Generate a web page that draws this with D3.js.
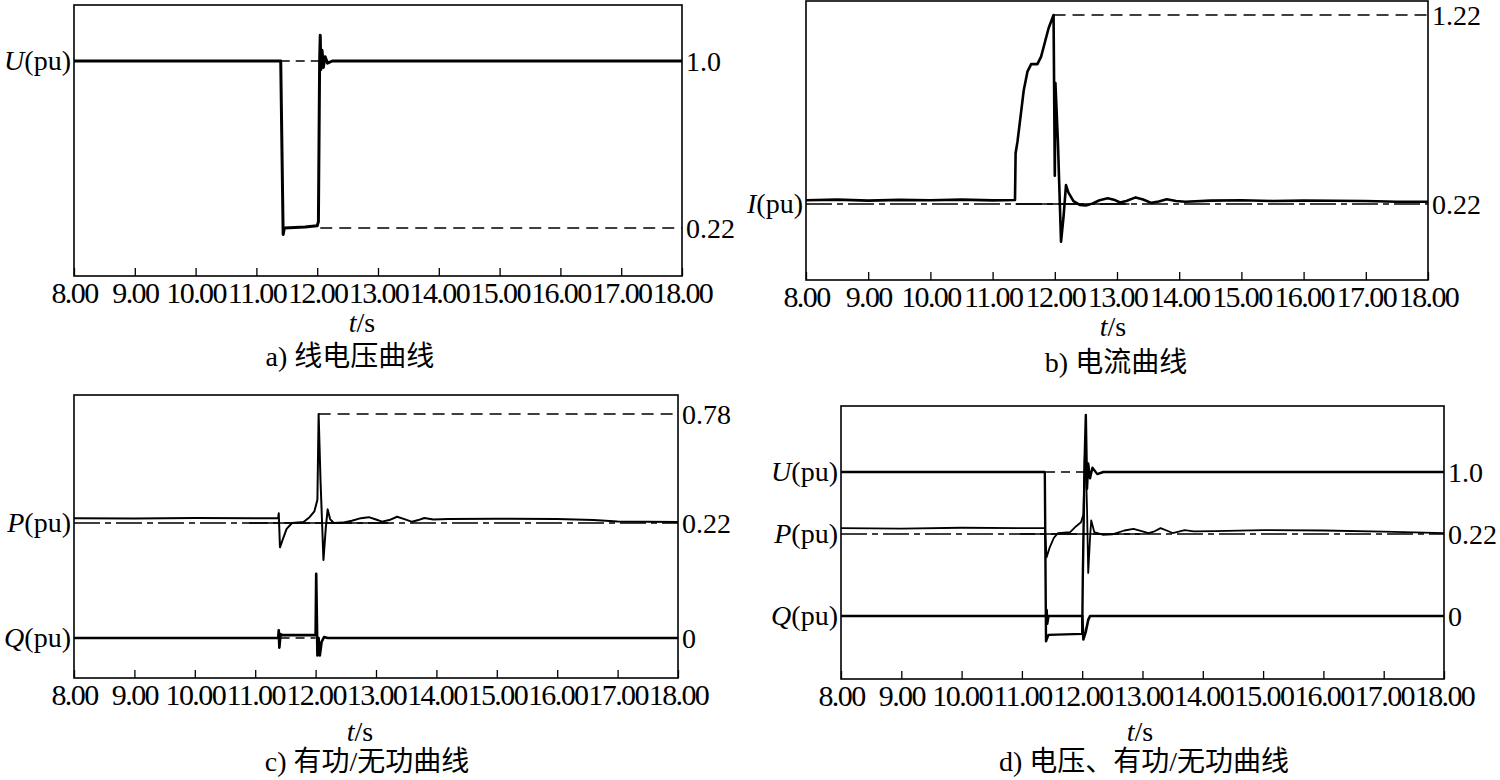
<!DOCTYPE html>
<html>
<head>
<meta charset="utf-8">
<script src="https://cdn.jsdelivr.net/npm/d3@7"></script>
<style>
  body { margin: 0; background: #fff; }
  text { font-family: "Liberation Serif", "Noto Sans CJK SC", serif; fill: #000; }
</style>
</head>
<body>
<svg width="1500" height="780"></svg>
<script>
// time axis
const xTicks = [8, 9, 10, 11, 12, 13, 14, 15, 16, 17, 18];

// a) line voltage U (pu)
const voltageA = [
  [8.0, 1.0], [9.5, 1.0], [10.8, 1.0], [11.40, 1.0], [11.44, 0.19], [11.46, 0.22],
  [11.8, 0.225], [12.0, 0.23], [12.02, 0.25], [12.04, 1.0], [12.05, 1.12], [12.06, 0.96],
  [12.08, 1.05], [12.10, 0.97], [12.13, 1.02], [12.17, 0.99], [12.25, 1.0], [18.0, 1.0]
];

// b) current I (pu)
const currentB = [
  [8.0, 0.24], [8.5, 0.243], [9.0, 0.238], [9.5, 0.242], [10.0, 0.24], [10.5, 0.243],
  [11.0, 0.239], [11.36, 0.241], [11.37, 0.49], [11.40, 0.55], [11.5, 0.82], [11.56, 0.92],
  [11.62, 0.96], [11.72, 0.96], [11.78, 1.0], [11.9, 1.15], [11.98, 1.22], [12.0, 0.37],
  [12.01, 0.86], [12.05, 0.55], [12.10, 0.02], [12.14, 0.15], [12.18, 0.32], [12.22, 0.28],
  [12.3, 0.235], [12.4, 0.215], [12.5, 0.212], [12.6, 0.222], [12.72, 0.24], [12.85, 0.25],
  [12.95, 0.243], [13.05, 0.228], [13.15, 0.236], [13.3, 0.255], [13.42, 0.244], [13.55, 0.226],
  [13.67, 0.233], [13.8, 0.245], [13.95, 0.236], [14.1, 0.232], [14.5, 0.238], [15.0, 0.24],
  [15.5, 0.236], [16.0, 0.238], [16.5, 0.237], [17.0, 0.236], [17.5, 0.232], [18.0, 0.232]
];

// c) active power P and reactive power Q (pu)
const powerC = [
  [8.0, 0.245], [9.0, 0.243], [10.0, 0.246], [11.0, 0.244], [11.38, 0.245], [11.39, 0.27],
  [11.41, 0.095], [11.45, 0.13], [11.52, 0.19], [11.61, 0.22], [11.8, 0.225], [11.9, 0.25],
  [11.98, 0.28], [12.03, 0.34], [12.05, 0.78], [12.08, 0.45], [12.13, 0.03], [12.17, 0.2],
  [12.2, 0.29], [12.24, 0.24], [12.3, 0.22], [12.45, 0.222], [12.6, 0.232], [12.75, 0.245],
  [12.88, 0.25], [13.0, 0.238], [13.1, 0.227], [13.22, 0.235], [13.35, 0.252], [13.47, 0.24],
  [13.6, 0.226], [13.7, 0.235], [13.8, 0.246], [13.95, 0.238], [14.2, 0.24], [15.0, 0.242],
  [16.0, 0.24], [16.6, 0.235], [17.0, 0.228], [18.0, 0.225]
];
const reactiveC = [
  [8.0, 0], [11.38, 0], [11.39, 0.04], [11.40, -0.05], [11.42, 0.02], [11.44, 0.015],
  [12.0, 0.015], [12.01, 0.33], [12.03, -0.09], [12.05, 0.0], [12.07, -0.09], [12.1, -0.02],
  [12.14, 0.005], [12.2, 0], [18.0, 0]
];

// d) U, P, Q together
const voltageD = [
  [8.0, 1.0], [11.38, 1.0], [11.40, 0.20], [11.44, 0.23], [12.0, 0.235], [12.01, 0.5],
  [12.04, 1.05], [12.06, 1.27], [12.08, 0.92], [12.1, 1.04], [12.13, 0.97], [12.17, 1.02],
  [12.25, 0.99], [12.35, 1.0], [18.0, 1.0]
];
const powerD = [
  [8.0, 0.25], [9.0, 0.248], [10.0, 0.252], [11.0, 0.25], [11.38, 0.25], [11.41, 0.10],
  [11.46, 0.15], [11.53, 0.2], [11.6, 0.225], [11.8, 0.23], [11.9, 0.26], [11.98, 0.28],
  [12.02, 0.32], [12.05, 0.7], [12.08, 0.35], [12.1, 0.02], [12.13, 0.2], [12.15, 0.29],
  [12.2, 0.23], [12.35, 0.215], [12.5, 0.218], [12.7, 0.238], [12.85, 0.246], [12.97, 0.236],
  [13.1, 0.225], [13.2, 0.234], [13.3, 0.25], [13.4, 0.238], [13.5, 0.225], [13.6, 0.232],
  [13.7, 0.24], [13.85, 0.233], [14.2, 0.235], [15.0, 0.24], [16.0, 0.238], [17.0, 0.232],
  [18.0, 0.225]
];
const reactiveD = [
  [8.0, 0], [11.40, 0], [11.41, 0.03], [11.42, -0.04], [11.44, 0], [12.0, 0],
  [12.02, -0.12], [12.06, -0.08], [12.1, -0.02], [12.13, 0], [18.0, 0]
];

// layout of the four panels (pixels)
const panels = [
  {
    box: { x: 74, y: 5, w: 608, h: 271 },
    traces: [{ data: voltageA, dom: [0.22, 1.0], rng: [223, 56], w: 3 }],
    refs: [
      { tr: 0, v: 1.0, t0: 11.40, t1: 12.05, dash: "9,6" },
      { tr: 0, v: 0.22, t0: 12.05, t1: 18, dash: "12,7" }
    ],
    left: [{ tr: 0, v: 1.0, sym: "U" }],
    right: [{ tr: 0, v: 1.0, text: "1.0" }, { tr: 0, v: 0.22, text: "0.22" }],
    ts: { x: 362, y: 332 }, cap: { x: 350, y: 366, text: "a) 线电压曲线" }
  },
  {
    box: { x: 806, y: 1, w: 622, h: 279 },
    traces: [{ data: currentB, dom: [0.22, 1.22], rng: [203, 14], w: 2.6 }],
    refs: [
      { tr: 0, v: 1.22, t0: 11.98, t1: 18, dash: "12,7" },
      { tr: 0, v: 0.22, t0: 8, t1: 18, dash: "26,5,6,5" },
      { tr: 0, v: 0.22, t0: 11.37, t1: 13.2, dash: null }
    ],
    left: [{ tr: 0, v: 0.22, sym: "I" }],
    right: [{ tr: 0, v: 1.22, text: "1.22" }, { tr: 0, v: 0.22, text: "0.22" }],
    ts: { x: 1113, y: 336 }, cap: { x: 1116, y: 372, text: "b) 电流曲线" }
  },
  {
    box: { x: 74, y: 395, w: 604, h: 283 },
    traces: [
      { data: powerC, dom: [0.22, 0.78], rng: [128, 19], w: 2 },
      { data: reactiveC, dom: [0, 1], rng: [243, 48.4], w: 2.6 }
    ],
    refs: [
      { tr: 0, v: 0.78, t0: 12.05, t1: 18, dash: "12,7" },
      { tr: 0, v: 0.22, t0: 8, t1: 18, dash: "26,5,6,5" },
      { tr: 0, v: 0.22, t0: 10.9, t1: 13.2, dash: null },
      { tr: 1, v: 0, t0: 11.42, t1: 12.0, dash: "9,6" }
    ],
    left: [{ tr: 0, v: 0.22, sym: "P" }, { tr: 1, v: 0, sym: "Q" }],
    right: [{ tr: 0, v: 0.78, text: "0.78" }, { tr: 0, v: 0.22, text: "0.22" }, { tr: 1, v: 0, text: "0" }],
    ts: { x: 360, y: 741 }, cap: { x: 367, y: 771, text: "c) 有功/无功曲线" }
  },
  {
    box: { x: 841, y: 406, w: 603, h: 273 },
    traces: [
      { data: powerD, dom: [0.22, 1.0], rng: [128, -23.8], w: 1.8 },
      { data: reactiveD, dom: [0, 1], rng: [210, 15.4], w: 2.6 },
      { data: voltageD, dom: [0.22, 1.0], rng: [231, 66], w: 2.4 }
    ],
    refs: [
      { tr: 2, v: 1.0, t0: 11.40, t1: 12.06, dash: "9,6" },
      { tr: 0, v: 0.22, t0: 8, t1: 18, dash: "26,5,6,5" },
      { tr: 0, v: 0.22, t0: 10.97, t1: 12.96, dash: null },
      { tr: 1, v: 0, t0: 11.42, t1: 12.02, dash: "9,6" }
    ],
    left: [{ tr: 2, v: 1.0, sym: "U" }, { tr: 0, v: 0.22, sym: "P" }, { tr: 1, v: 0, sym: "Q" }],
    right: [{ tr: 2, v: 1.0, text: "1.0" }, { tr: 0, v: 0.22, text: "0.22" }, { tr: 1, v: 0, text: "0" }],
    ts: { x: 1140, y: 741 }, cap: { x: 1144, y: 771, text: "d) 电压、有功/无功曲线" }
  }
];

const svg = d3.select("svg");

panels.forEach((p) => {
  const b = p.box;
  const g = svg.append("g").attr("transform", `translate(${b.x},${b.y})`);

  const x = d3.scaleLinear().domain([8, 18]).range([0, b.w]);
  const ys = p.traces.map((t) => d3.scaleLinear().domain(t.dom).range(t.rng));

  // reference lines
  p.refs.forEach((r) => {
    g.append("line")
      .attr("x1", x(r.t0)).attr("x2", x(r.t1))
      .attr("y1", ys[r.tr](r.v)).attr("y2", ys[r.tr](r.v))
      .attr("stroke", "#000")
      .attr("stroke-width", r.dash ? 1.6 : 1.3)
      .attr("stroke-dasharray", r.dash);
  });

  // traces
  p.traces.forEach((t, i) => {
    const line = d3.line().x((d) => x(d[0])).y((d) => ys[i](d[1]));
    g.append("path")
      .datum(t.data)
      .attr("d", line)
      .attr("fill", "none")
      .attr("stroke", "#000")
      .attr("stroke-width", t.w)
      .attr("stroke-linejoin", "round");
  });

  // frame
  g.append("rect")
    .attr("width", b.w).attr("height", b.h)
    .attr("fill", "none").attr("stroke", "#000").attr("stroke-width", 1.6);

  // time axis
  const ax = g.append("g")
    .attr("transform", `translate(0,${b.h})`)
    .call(d3.axisBottom(x).tickValues(xTicks).tickFormat(d3.format(".2f"))
      .tickSizeInner(-8).tickSizeOuter(0).tickPadding(6));
  ax.select(".domain").remove();
  ax.selectAll(".tick line").attr("stroke-width", 1.3);
  ax.selectAll(".tick text")
    .style("font-family", "'Liberation Serif', serif")
    .style("font-size", "30px")
    .attr("letter-spacing", -1.6);

  // left labels
  p.left.forEach((l) => {
    const t = g.append("text")
      .attr("x", -3).attr("y", ys[l.tr](l.v) + 9)
      .attr("text-anchor", "end")
      .attr("font-size", 28);
    t.append("tspan").attr("font-style", "italic").text(l.sym);
    t.append("tspan").text("(pu)");
  });

  // right labels
  p.right.forEach((r) => {
    g.append("text")
      .attr("x", b.w + 4).attr("y", ys[r.tr](r.v) + 10)
      .attr("font-size", 28)
      .text(r.text);
  });

  // axis title and caption
  const ts = svg.append("text")
    .attr("x", p.ts.x).attr("y", p.ts.y)
    .attr("text-anchor", "middle")
    .attr("font-size", 28);
  ts.append("tspan").attr("font-style", "italic").text("t");
  ts.append("tspan").text("/s");

  svg.append("text")
    .attr("x", p.cap.x).attr("y", p.cap.y)
    .attr("text-anchor", "middle")
    .attr("font-size", 28)
    .text(p.cap.text);
});
</script>
</body>
</html>
